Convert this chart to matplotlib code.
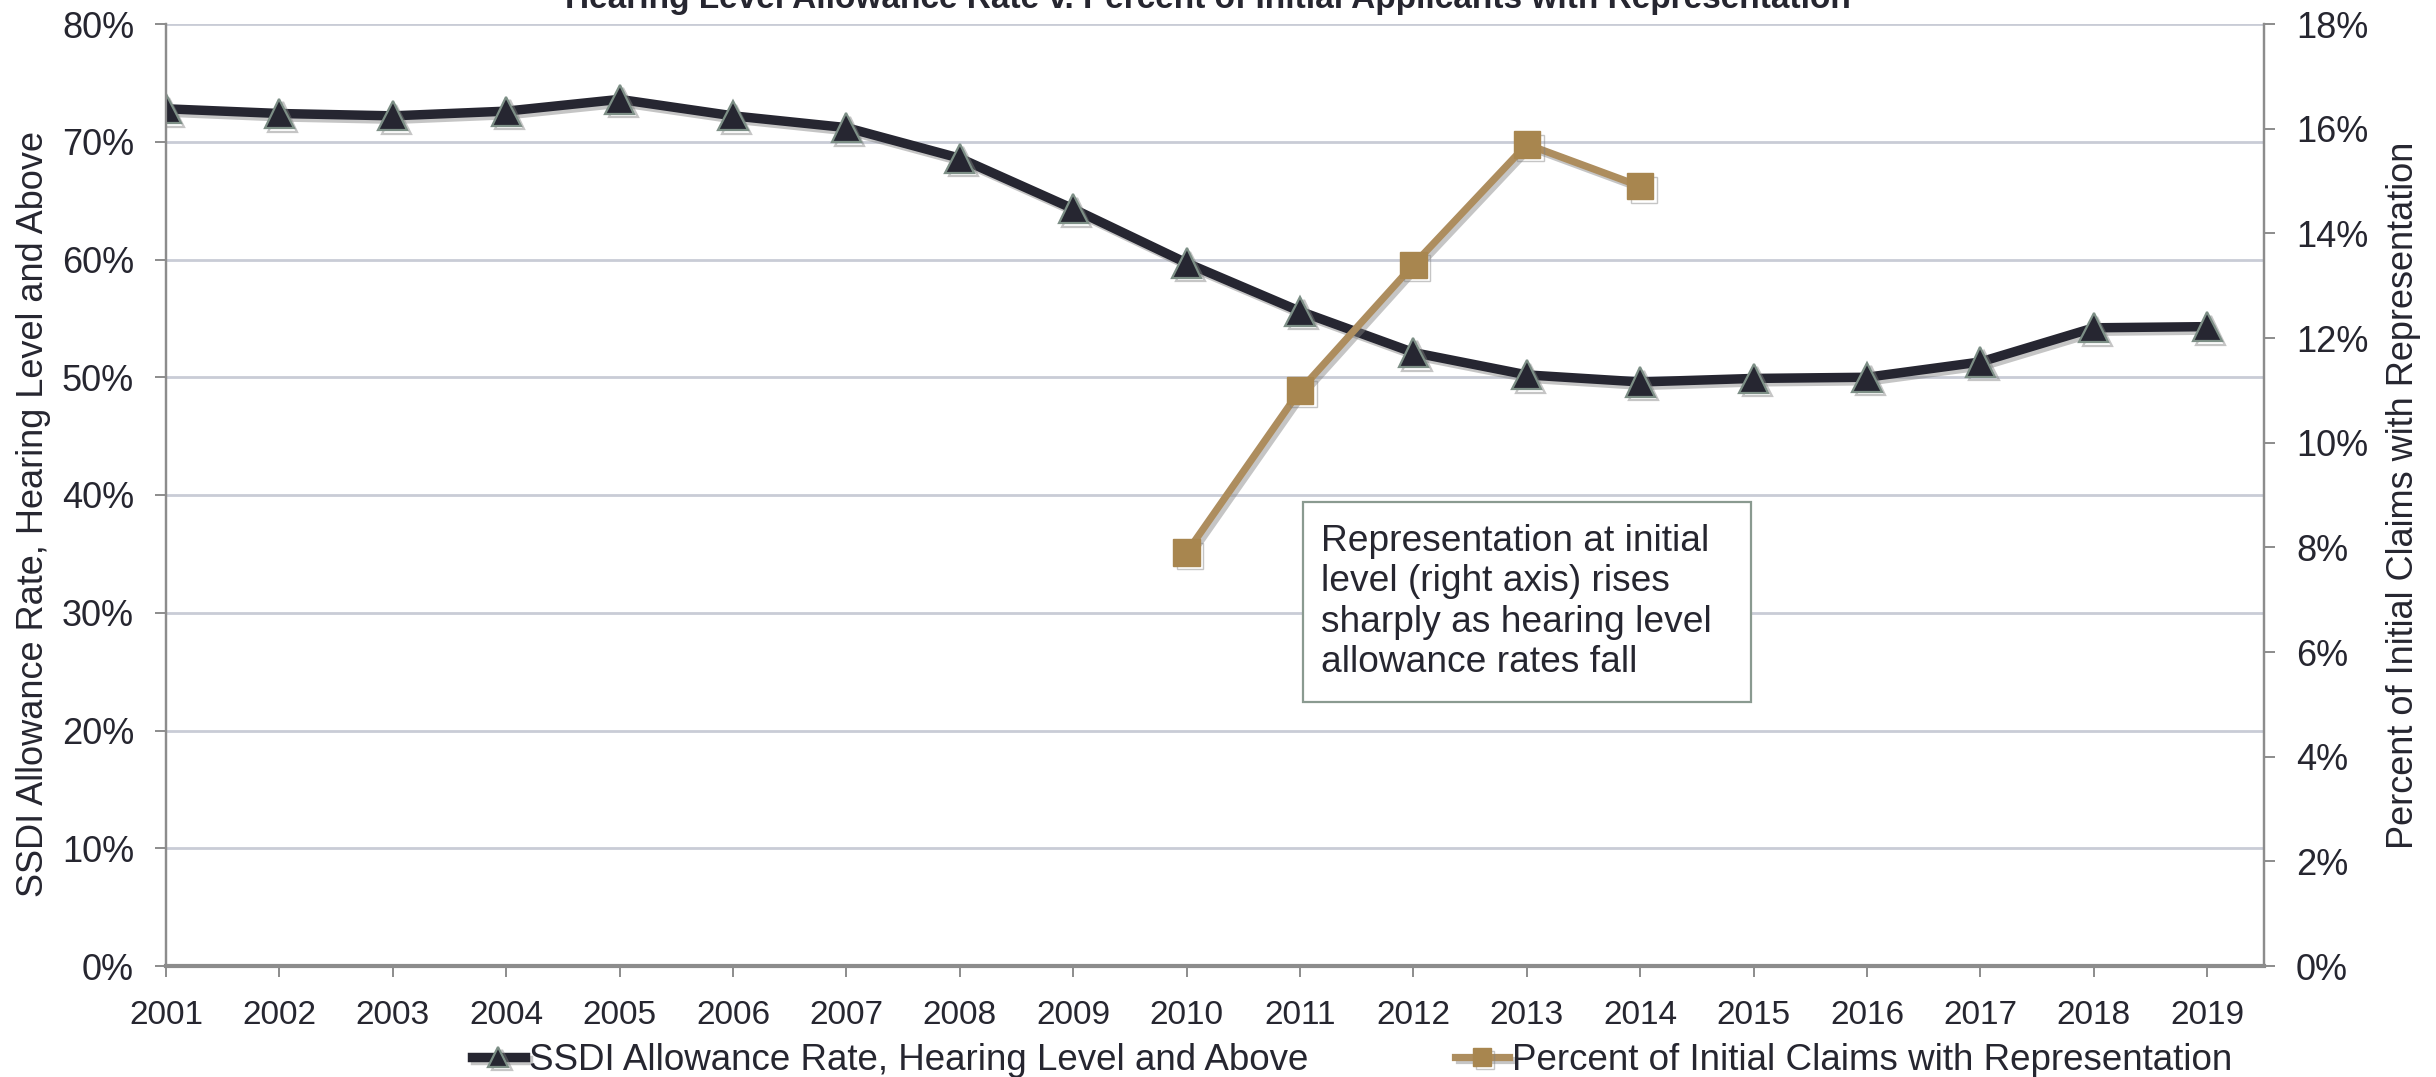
import matplotlib
matplotlib.use("Agg")
import matplotlib.pyplot as plt
import matplotlib.patheffects as pe
from matplotlib.patches import Rectangle
from matplotlib.ticker import FuncFormatter, MultipleLocator

years = [2001, 2002, 2003, 2004, 2005, 2006, 2007, 2008, 2009, 2010,
         2011, 2012, 2013, 2014, 2015, 2016, 2017, 2018, 2019]
allowance_rate = [72.8, 72.4, 72.2, 72.6, 73.6, 72.2, 71.2, 68.6, 64.3, 59.7,
                  55.6, 52.1, 50.2, 49.6, 49.9, 50.0, 51.3, 54.2, 54.3]
rep_years = [2010, 2011, 2012, 2013, 2014]
rep_pct = [7.9, 11.0, 13.4, 15.7, 14.9]

title = "Hearing Level Allowance Rate v. Percent of Initial Applicants with Representation"
left_label = "SSDI Allowance Rate, Hearing Level and Above"
right_label = "Percent of Initial Claims with Representation"
note = ("Representation at initial\nlevel (right axis) rises\n"
        "sharply as hearing level\nallowance rates fall")

plt.rcParams['font.family'] = ['Liberation Sans', 'DejaVu Sans']
TXT = "#262630"
GRID = "#c9ccd6"
SPINE = "#8c8c8c"
DARK = "#262631"
GOLD = "#ad8d5e"

W, H = 2436, 1077
fig = plt.figure(figsize=(W / 100, H / 100), dpi=100)
L, R, T, B = 166, 2264, 24, 966
ax = fig.add_axes([L / W, 1 - B / H, (R - L) / W, (B - T) / H])
ax2 = ax.twinx()

shadow = [pe.SimpleLineShadow(offset=(2.5, -2.5), shadow_color='gray', alpha=0.45), pe.Normal()]

ax.plot(years, allowance_rate, color=DARK, lw=6.8, marker='^', markersize=21,
        markerfacecolor=DARK, markeredgecolor="#7d8f86", markeredgewidth=1.6,
        label=left_label, zorder=3, path_effects=shadow, solid_joinstyle='round')
ax2.plot(rep_years, rep_pct, color=GOLD, lw=5.2, marker='s', markersize=19,
         markerfacecolor="#a8864f", markeredgecolor="#a8864f", markeredgewidth=1,
         label=right_label, zorder=3, path_effects=shadow)

ax.set_xlim(2001, 2019.5)
ax.set_ylim(0, 80)
ax2.set_ylim(0, 18)
ax.set_xticks(years)
ax.set_xticklabels([str(y) for y in years])
ax.yaxis.set_major_locator(MultipleLocator(10))
ax2.yaxis.set_major_locator(MultipleLocator(2))
ax.yaxis.set_major_formatter(FuncFormatter(lambda v, p: f"{v:.0f}%"))
ax2.yaxis.set_major_formatter(FuncFormatter(lambda v, p: f"{v:.0f}%"))

ax.grid(axis='y', color=GRID, lw=2)
ax.set_axisbelow(True)

for a in (ax, ax2):
    a.spines['top'].set_visible(False)
    for s in ('left', 'right', 'bottom'):
        a.spines[s].set_color(SPINE)
        a.spines[s].set_linewidth(1.6)
    a.tick_params(colors=SPINE, labelcolor=TXT, length=8, width=1.4)
ax.spines['bottom'].set_linewidth(3)
ax.tick_params(axis='x', labelsize=24, pad=16.5)
ax.tick_params(axis='y', labelsize=26, pad=15)
ax2.tick_params(axis='y', labelsize=26, pad=15)

ax.set_ylabel(left_label, fontsize=26, color=TXT)
ax.yaxis.set_label_coords((51 - L) / (R - L), 0.48)
ax2.set_ylabel(right_label, fontsize=26, color=TXT)
ax2.yaxis.set_label_coords((2386 - L) / (R - L), 0.5)

# annotation box
x_per_px = (2019.5 - 2001) / (R - L)
y_per_px = 80 / (B - T)
bx0, bx1, by0, by1 = 1303, 1751, 502, 702
ax.add_patch(Rectangle((2001 + (bx0 - L) * x_per_px, (B - by1) * y_per_px),
                       (bx1 - bx0) * x_per_px, (by1 - by0) * y_per_px,
                       facecolor='white', edgecolor="#8a9a90", lw=1.6, zorder=5))
ax.text(2001 + (1321 - L) * x_per_px, (B - 524) * y_per_px, note, fontsize=26.7,
        color=TXT, va='top', ha='left', linespacing=1.2, zorder=6)

fig.text(0.496, 1 - 8 / H, title, fontsize=24, fontweight='bold', color=TXT,
         ha='center', va='baseline')

h1, l1 = ax.get_legend_handles_labels()
h2, l2 = ax2.get_legend_handles_labels()
fig.legend(h1 + h2, l1 + l2, loc='center', bbox_to_anchor=(1352 / W, 1 - 1060 / H),
           ncol=2, frameon=False, fontsize=26.5, markerscale=0.68, handlelength=1.45,
           handletextpad=0.1, columnspacing=4.0, labelcolor=TXT,
           borderpad=0, borderaxespad=0)

fig.savefig("out.png", dpi=100)
